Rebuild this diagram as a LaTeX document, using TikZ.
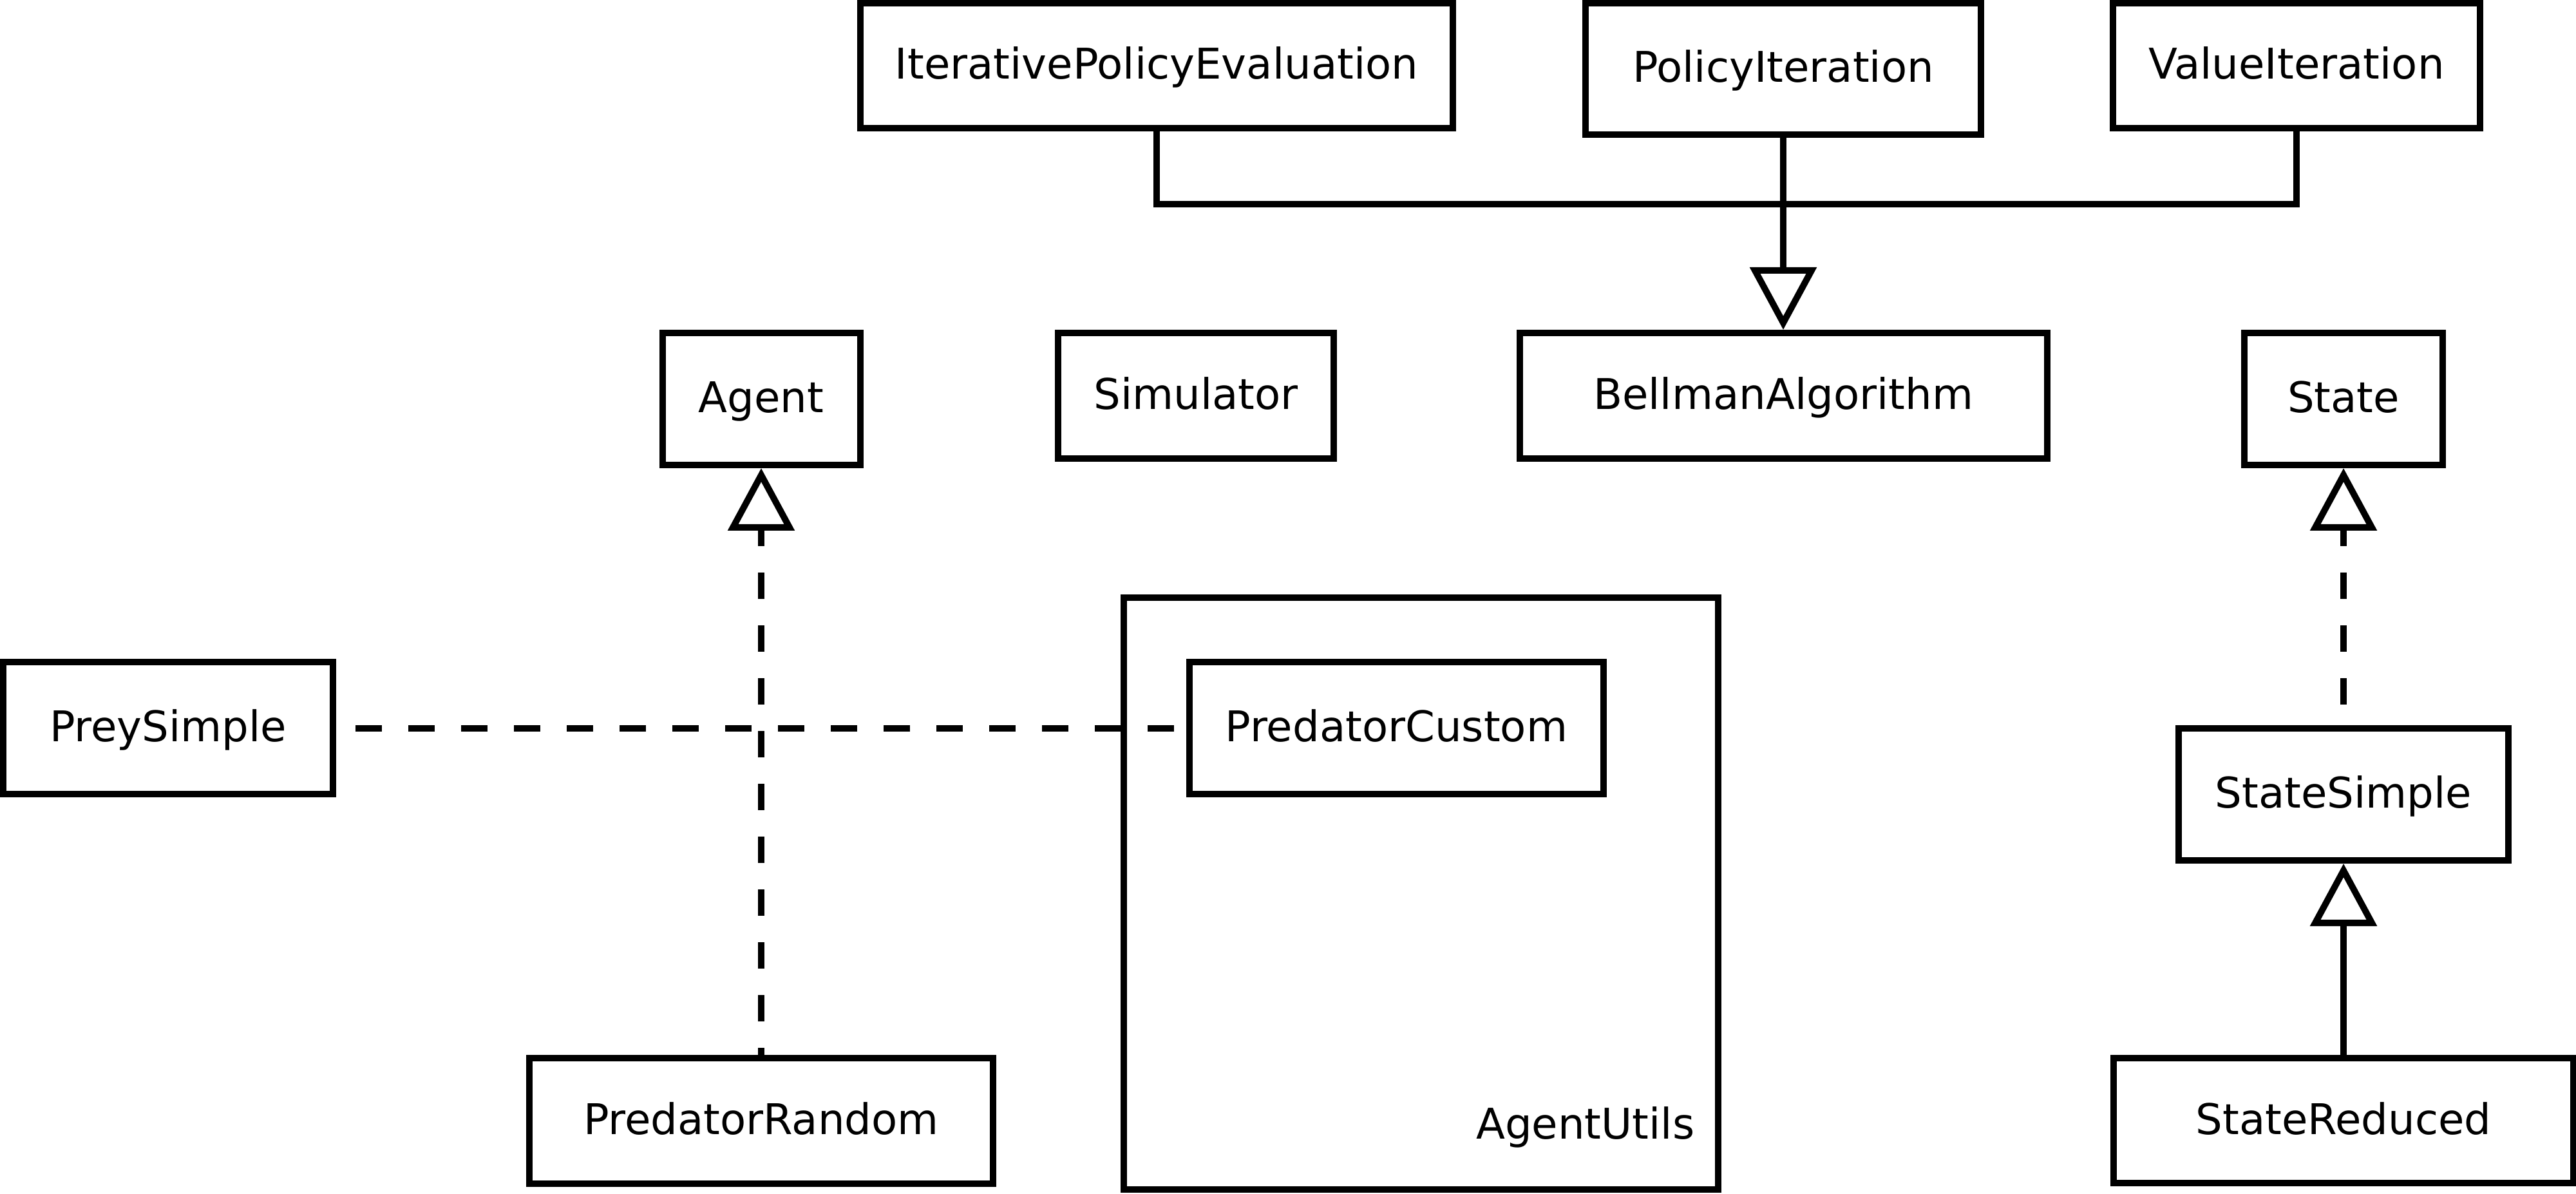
\documentclass[tikz,border=0pt]{standalone}
\usepackage{fontspec}
\setmainfont{DejaVu Sans}
\usetikzlibrary{arrows.meta,positioning}

\begin{document}
\begin{tikzpicture}[line width=0.1cm,node distance=2cm,on grid,
        cls/.style={draw,rectangle,inner sep=0pt,text height=0.5cm,text depth=0.08cm,font=\fontsize{18.7}{22}\selectfont},
        inherit/.style={-{Triangle[open,length=0.97cm,width=1.02cm]}},
        realize/.style={inherit,dash pattern=on 0.41cm off 0.41cm}]
            \useasboundingbox (0,0) rectangle (40,-18.54);
            \node[cls, minimum width=9.20cm, minimum height=1.94cm] (ipe) at (17.96,-1.02) {IterativePolicyEvaluation};
            \node[cls, minimum width=6.14cm, minimum height=2.04cm] (pi) at (27.69,-1.07) {PolicyIteration};
            \node[cls, minimum width=5.70cm, minimum height=1.94cm] (vi) at (35.66,-1.02) {ValueIteration};
            \node[cls, minimum width=3.07cm, minimum height=2.05cm] (agent) at (11.82,-6.195) {Agent};
            \node[cls, minimum width=4.28cm, minimum height=1.95cm] (sim) at (18.57,-6.145) {Simulator};
            \node[cls, minimum width=8.19cm, minimum height=1.95cm] (bell) at (27.69,-6.145) {BellmanAlgorithm};
            \node[cls, minimum width=3.08cm, minimum height=2.05cm] (state) at (36.39,-6.195) {State};
            \node[cls, minimum width=5.12cm, minimum height=2.05cm] (prey) at (2.61,-11.305) {PreySimple};
            \node[draw, minimum width=9.23cm, minimum height=9.19cm] (utils) at (22.065,-13.875) {};
            \node[anchor=base east, font=\fontsize{18.7}{22}\selectfont] (utilsname) at (26.48,-17.68) {AgentUtils};
            \node[cls, minimum width=6.43cm, minimum height=2.05cm] (pcust) [right=19.075cm of prey] {PredatorCustom};
            \node[cls, minimum width=7.20cm, minimum height=1.95cm] (prand) [below=11.21cm of agent] {PredatorRandom};
            \node[cls, minimum width=5.12cm, minimum height=2.05cm] (ssimple) [below=6.14cm of state] {StateSimple};
            \node[cls, minimum width=7.14cm, minimum height=1.94cm] (sred) [below=5.065cm of ssimple] {StateReduced};
            \coordinate (bus) at (27.69,-3.17);
            \draw (ipe.south) |- (bus) -| (vi.south);
            \draw[inherit] (pi) -- (bell);
            \draw[realize, dash phase=0.30cm] (prand) -- (agent);
            \draw[realize, dash phase=0.50cm] (ssimple) -- (state);
            \draw[inherit] (sred) -- (ssimple);
            \draw[dash pattern=on 0.41cm off 0.41cm, dash phase=0.52cm] (prey) -- (pcust);
        \end{tikzpicture}
\end{document}
